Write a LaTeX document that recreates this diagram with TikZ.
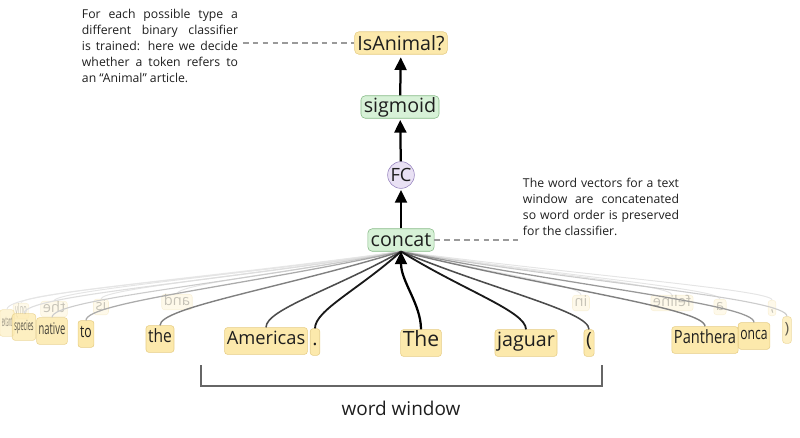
\documentclass[tikz,border=0pt]{standalone}
\usepackage{fontspec}
\setmainfont{Open Sans}
\usetikzlibrary{arrows.meta, positioning, calc}
\definecolor{tokfill}{HTML}{FCE9AC}
\definecolor{tokdraw}{HTML}{E6CD85}
\definecolor{gfill}{HTML}{D7F1D7}
\definecolor{gdraw}{HTML}{86BA86}
\definecolor{pfill}{HTML}{E9E1F4}
\definecolor{pdraw}{HTML}{9683BE}
\definecolor{cgray}{HTML}{9A9A9A}
\definecolor{ctext}{HTML}{1E1E1E}

\begin{document}
\begin{tikzpicture}[x=0.025cm, y=-0.025cm,
  box/.style={draw, rounded corners=3pt, inner xsep=2pt, inner ysep=0pt, minimum height=16pt, text=ctext, font=\fontsize{14}{16}\selectfont},
  tok/.style={draw=tokdraw, fill=tokfill, rounded corners=2pt, inner xsep=1.5pt, inner ysep=0pt, minimum height=19pt,
    text height=0.72em, text depth=0.22em, text=ctext, font=\fontsize{#1}{#1}\selectfont},
  tok/.default=14,
  backtok/.style={tok=10.5, minimum height=11pt, opacity=0.25},
  note/.style={text width=3.9cm, align=justify, text=ctext, font=\fontsize{8.7}{11.4}\selectfont},
  arr/.style={-{Triangle[length=9pt, width=8.5pt]}, line width=1.6pt},
  link/.style={dash pattern=on 4pt off 3pt, cgray, line width=0.8pt}
]
  \useasboundingbox (0,0) rectangle (800,437);

  % Tokens on the far side of the ring
  \node[backtok] (bonly) at (21,311) {\scalebox{0.4}[1]{\reflectbox{only}}};
  \node[backtok] (bthe) at (54,309) {\reflectbox{the}};
  \node[backtok] (bis) at (101,307) {\reflectbox{is}};
  \node[backtok] (band) at (177,302) {\reflectbox{and}};
  \node[backtok] (bin) at (581,303) {\reflectbox{in}};
  \node[backtok] (bfeline) at (672,303) {\reflectbox{feline}};
  \node[backtok] (ba) at (720,307) {\reflectbox{a}};
  \node[backtok] (bcomma) at (772,308) {\reflectbox{,}};

  % Concat node first, the links need it
  \node[box, fill=gfill, draw=gdraw] (concat) at (401,240) {concat};

  % Links from every token into concat
  \foreach \w/\c/\lw in {bonly/black!8/0.7, bthe/black!10/0.7, bis/black!10/0.7, band/black!10/0.7,
      bin/black!10/0.7, bfeline/black!10/0.7, ba/black!10/0.7, bcomma/black!10/0.7}
    \draw[\c, line width=\lw pt] (\w.north) .. controls +(0,-10) and ($(\w.north)!0.5!(concat.south)$) .. (concat.south);

  % Tokens on the near side of the ring
  \node[tok=10, opacity=0.5] (wextant) at (7,323) {\scalebox{0.25}[1]{extant}};
  \node[tok=10, opacity=0.75] (wspecies) at (24,327) {\scalebox{0.4}[1]{species}};
  \node[tok=11.5, opacity=0.85] (wnative) at (52,331) {\scalebox{0.58}[1]{native}};
  \node[tok=12] (wto) at (86,334) {\scalebox{0.72}[1]{to}};
  \node[tok=13] (wthe) at (160,339) {\scalebox{0.85}[1]{the}};
  \node[tok=13] (wamericas) at (266,341) {Americas};
  \node[tok] (wdot) at (315,342) {.};
  \node[tok=15] (wThe) at (421,343) {The};
  \node[tok] (wjaguar) at (526,343) {jaguar};
  \node[tok] (wlpar) at (589,343) {(};
  \node[tok=13] (wpanthera) at (705,340) {\scalebox{0.8}[1]{Panthera}};
  \node[tok=12] (wonca) at (754,336) {\scalebox{0.72}[1]{onca}};
  \node[tok=11, opacity=0.7] (wrpar) at (787,330) {)};

  \foreach \w/\c/\lw in {wextant/black!10/0.7, wspecies/black!13/0.8, wnative/black!20/0.8, wrpar/black!20/0.8,
      wto/black!33/0.9, wonca/black!40/0.9, wthe/black!50/1.0, wpanthera/black!50/1.0,
      wamericas/black!70/1.1, wlpar/black!70/1.1, wdot/black!90/1.3, wjaguar/black!90/1.3}
    \draw[\c, line width=\lw pt] (\w.north) .. controls +(0,-18) and ($(\w.north)!0.5!(concat.south)$) .. (concat.south);
  \draw[arr] (wThe.north) .. controls +(0,-25) and +(0,30) .. (concat.south);

  % Classifier stack
  \node[circle, draw=pdraw, fill=pfill, inner sep=0pt, minimum size=19pt, text=ctext, font=\fontsize{13}{15}\selectfont] (fc) at (401,175) {FC};
  \node[box, fill=gfill, draw=gdraw] (sigmoid) at (400,107) {sigmoid};
  \node[box, fill=tokfill, draw=tokdraw] (isanimal) at (401,43) {IsAnimal?};
  \draw[arr, shorten >=1pt] (concat) -- (fc);
  \draw[arr, shorten >=1pt] (fc) -- (sigmoid);
  \draw[arr, shorten >=2pt] (sigmoid) -- (isanimal);

  % Notes
  \node[note] (noteclf) at (160,46) {For each possible type a\linebreak different binary classifier\linebreak is trained: here we decide\linebreak whether a token refers to\linebreak an “Animal” article.};
  \node[note] (notewin) at (601,207) {The word vectors for a text\linebreak window are concatenated\linebreak so word order is preserved\linebreak for the classifier.};
  \draw[link] (noteclf.east |- isanimal.west) -- (isanimal.west);
  \draw[link] (concat.east) -- (notewin.west |- concat.east);

  % Word window
  \draw[black!60, line width=0.8pt] (201,365) -- (201,386) -- (602,386) -- (602,365);
  \node[text=ctext, font=\fontsize{13.5}{15}\selectfont] (window) at (401,408) {word window};
\end{tikzpicture}
\end{document}
